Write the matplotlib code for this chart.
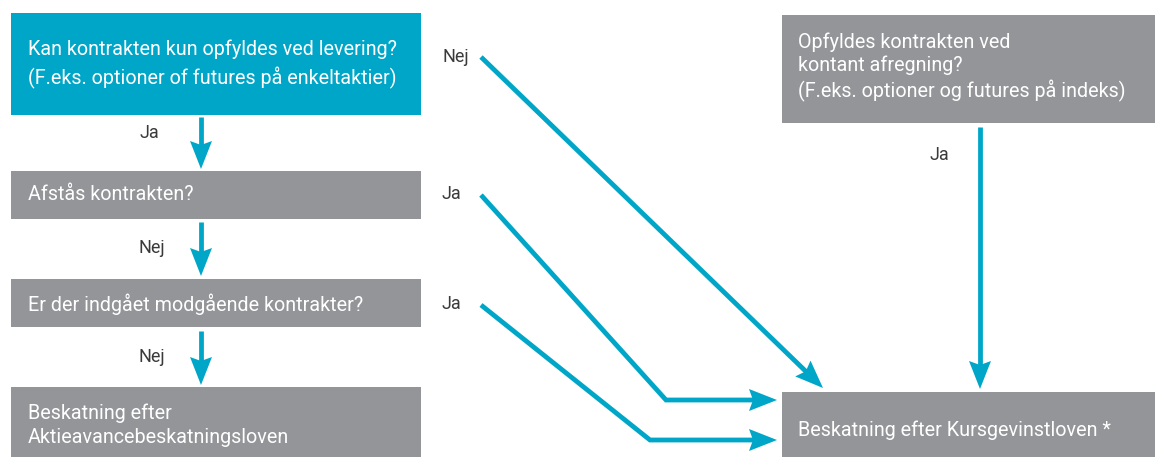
import numpy as np
import matplotlib.pyplot as plt
from matplotlib.patches import Rectangle, Polygon

# box texts
box_texts = [
    "Kan kontrakten kun opfyldes ved levering?\n(F.eks. optioner of futures på enkeltaktier)",
    "Afstås kontrakten?",
    "Er der indgået modgående kontrakter?",
    "Beskatning efter\nAktieavancebeskatningsloven",
    "Opfyldes kontrakten ved\nkontant afregning?\n(F.eks. optioner og futures på indeks)",
    "Beskatning efter Kursgevinstloven *",
]
edge_labels = ["Ja", "Nej", "Nej", "Nej", "Ja", "Ja", "Ja"]

BLUE = "#00a6c8"
GRAY = "#939598"
LABEL = "#3a3a3a"

# layout in pixels: x0, y0, x1, y1, colour
boxes = [
    (11, 13, 421, 115, BLUE),
    (11, 171, 421, 219, GRAY),
    (11, 279, 421, 327, GRAY),
    (11, 387, 421, 457, GRAY),
    (782, 15, 1155, 123, GRAY),
    (782, 392, 1155, 457, GRAY),
]
text_pos = [(28, 64), (28, 195), (28, 304), (28, 425), (798, 67), (798, 430)]
spacing = [1.42, 1.2, 1.2, 1.36, 1.26, 1.2]

# arrow paths (pixels) and label positions
paths = [
    [(201, 117), (201, 169)],
    [(201, 222), (201, 276)],
    [(201, 331), (201, 385)],
    [(481, 57), (823, 388)],
    [(481, 195), (666, 400), (777, 400)],
    [(481, 305), (650, 440), (777, 440)],
    [(980, 127), (980, 389)],
]
label_pos = [(139, 133), (139, 248), (139, 357), (442, 57), (442, 194), (442, 304), (930, 155)]

plt.rcParams['font.family'] = ['Roboto', 'DejaVu Sans']

fig = plt.figure(figsize=(11.55, 4.57), dpi=100)
ax = fig.add_axes([0, 0, 1, 1])
ax.set_xlim(0, 1155)
ax.set_ylim(457, 0)
ax.axis('off')

for (x0, y0, x1, y1, c), txt, (tx, ty), ls in zip(boxes, box_texts, text_pos, spacing):
    ax.add_patch(Rectangle((x0, y0), x1 - x0, y1 - y0, facecolor=c, edgecolor='none'))
    ax.text(tx, ty, txt, color='white', fontsize=14.2, fontweight='normal',
            ha='left', va='center', linespacing=ls)


def arrow(pts, lw=4.8, hl=28, hw=11, notch=4):
    # shaft as polyline, head as notched triangle at the last point
    pts = np.array(pts, dtype=float)
    tip = pts[-1]
    prev = pts[-2]
    d = (tip - prev) / np.linalg.norm(tip - prev)
    n = np.array([-d[1], d[0]])
    back = tip - d * hl
    shaft = np.vstack([pts[:-1], tip - d * (hl - notch - 1)])
    ax.plot(shaft[:, 0], shaft[:, 1], color=BLUE, lw=lw * 0.72, solid_capstyle='butt',
            solid_joinstyle='miter')
    head = [tip, back + n * hw, tip - d * (hl - notch), back - n * hw]
    ax.add_patch(Polygon(head, closed=True, facecolor=BLUE, edgecolor='none'))


for p in paths:
    arrow(p)

for lab, (lx, ly) in zip(edge_labels, label_pos):
    ax.text(lx, ly, lab, color=LABEL, fontsize=13, fontweight='normal', ha='left', va='center')

fig.savefig("out.png", dpi=100)
